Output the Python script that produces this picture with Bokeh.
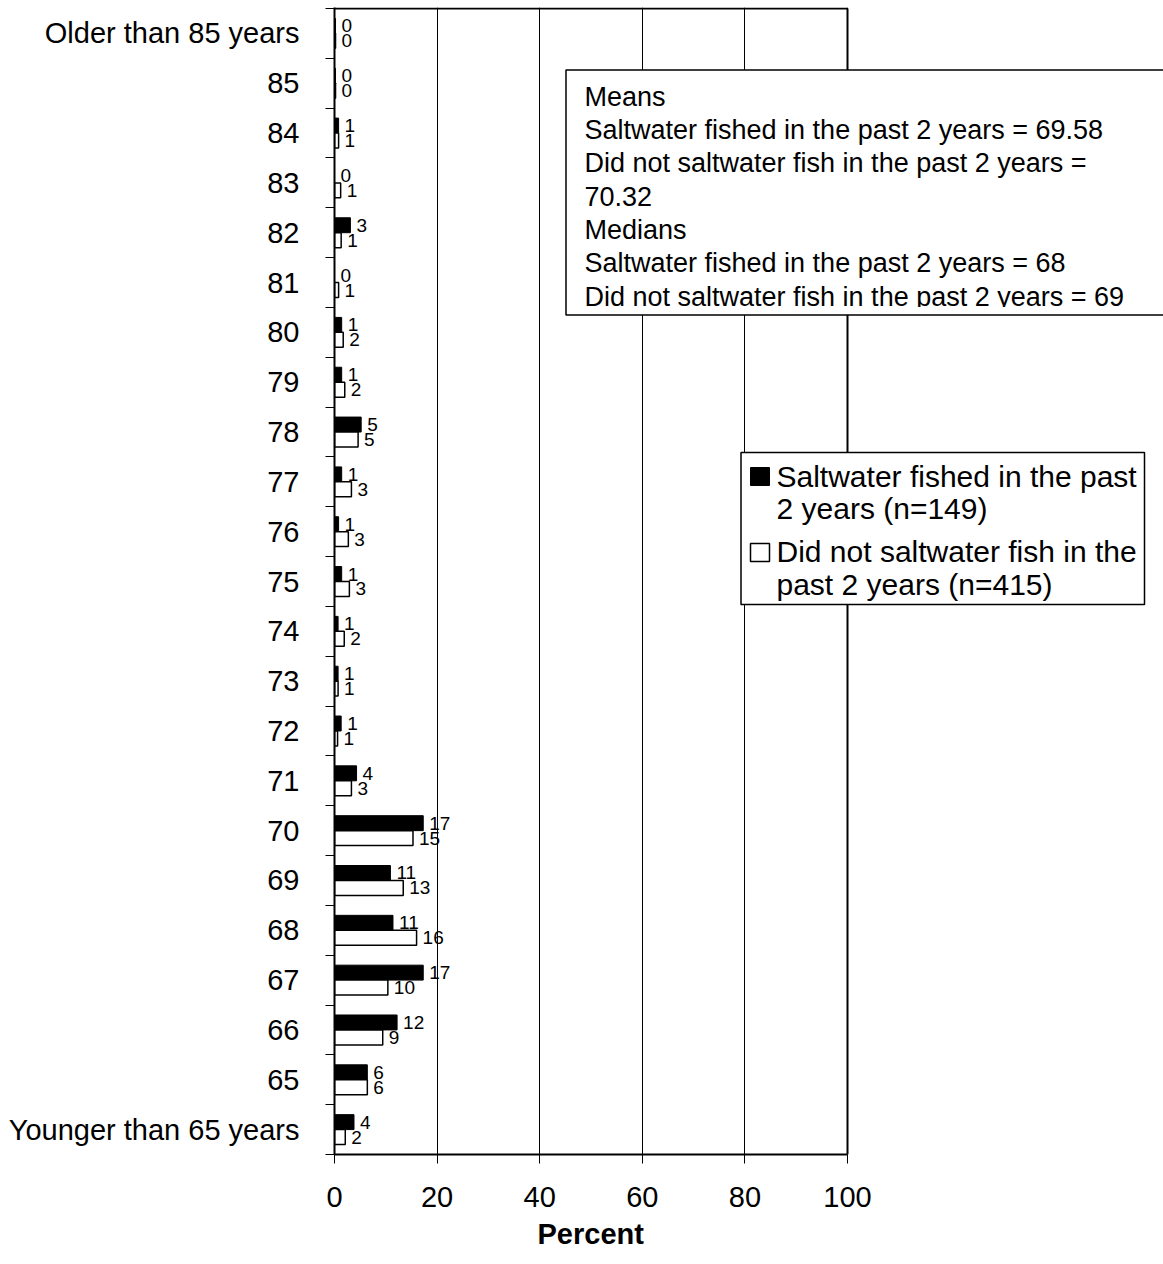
from bokeh.plotting import figure
from bokeh.models import Range1d, FixedTicker, ColumnDataSource, Title
from bokeh.core.properties import value
from bokeh.embed import file_html
from bokeh.resources import INLINE

# ---------------- data ----------------
categories = ["Younger than 65 years", "65", "66", "67", "68", "69", "70", "71", "72",
              "73", "74", "75", "76", "77", "78", "79", "80", "81", "82", "83", "84",
              "85", "Older than 85 years"]
fished = [3.8, 6.4, 12.2, 17.3, 11.4, 10.9, 17.3, 4.3, 1.3, 0.7, 0.7, 1.4, 0.8, 1.4,
          5.2, 1.4, 1.4, 0.0, 3.1, 0.0, 0.8, 0.2, 0.2]
not_fished = [2.1, 6.4, 9.4, 10.4, 16.0, 13.4, 15.3, 3.3, 0.6, 0.7, 1.9, 2.9, 2.7, 3.3,
              4.6, 2.0, 1.7, 0.8, 1.3, 1.2, 0.8, 0.2, 0.2]
x_ticks = [0, 20, 40, 60, 80, 100]
series_names = ["Saltwater fished in the past", "2 years (n=149)",
                "Did not saltwater fish in the", "past 2 years (n=415)"]
stats_lines = ["Means",
               "Saltwater fished in the past 2 years = 69.58",
               "Did not saltwater fish in the past 2 years =",
               "70.32",
               "Medians",
               "Saltwater fished in the past 2 years = 68",
               "Did not saltwater fish in the past 2 years = 69"]
x_title = "Percent"

FONT = "Liberation Sans"

# ---------------- geometry (page pixels) ----------------
W, H = 1163, 1264
FRAME_L = 334
FRAME_T = 7
FRAME_B = 1154
PX_UNIT = 5.13                      # pixels per percent
X_END = (W - FRAME_L) / PX_UNIT
PPC = (FRAME_B - FRAME_T - 1) / 23.0  # pixels per category
Y_END = 22.5 + 1.0 / PPC


def px2x(px):
    return (px - FRAME_L) / PX_UNIT


def px2y(py):
    return Y_END - (py - FRAME_T) / PPC


n = len(categories)
idx = list(range(n))
src = ColumnDataSource(dict(
    y_b=[i + 0.15 for i in idx],
    y_w=[i - 0.15 for i in idx],
    fished=fished,
    not_fished=not_fished,
    lab_b=[f"{v:.0f}" for v in fished],
    lab_w=[f"{v:.0f}" for v in not_fished],
))

p = figure(width=W, height=H, x_range=Range1d(0, X_END), y_range=Range1d(-0.5, Y_END),
           output_backend="svg", toolbar_location=None,
           min_border_left=FRAME_L, min_border_right=0, min_border_top=FRAME_T,
           min_border_bottom=H - FRAME_B)
p.outline_line_color = None
p.background_fill_color = "white"
p.border_fill_color = "white"

# x axis
xa = p.xaxis[0]
xa.ticker = FixedTicker(ticks=x_ticks)
xa.bounds = (0, 100)
xa.axis_line_width = 2
xa.axis_line_color = "black"
xa.major_tick_out = 9
xa.major_tick_in = 0
xa.major_tick_line_color = "black"
xa.minor_tick_line_color = None
xa.major_label_text_font = FONT
xa.major_label_text_font_size = "29px"
xa.major_label_text_color = "black"
xa.major_label_standoff = 23

# x axis title, centred under the 0-100 scale
p.add_layout(Title(text=x_title, align="left", offset=px2x(537) * PX_UNIT,
                   text_font=FONT, text_font_size="29px", text_font_style="bold",
                   text_color="black", standoff=12), "below")

# y axis
ya = p.yaxis[0]
ya.ticker = FixedTicker(ticks=idx, minor_ticks=[i - 0.5 for i in range(n + 1)])
ya.major_label_overrides = {i: c for i, c in zip(idx, categories)}
ya.axis_line_width = 2
ya.axis_line_color = "black"
ya.major_tick_line_color = None
ya.major_tick_out = 0
ya.major_tick_in = 0
ya.minor_tick_line_color = "black"
ya.minor_tick_out = 9
ya.minor_tick_in = 0
ya.major_label_text_font = FONT
ya.major_label_text_font_size = "29px"
ya.major_label_text_color = "black"
ya.major_label_standoff = 26

p.xgrid.ticker = FixedTicker(ticks=x_ticks)
p.xgrid.grid_line_color = "black"
p.xgrid.grid_line_width = 1
p.ygrid.visible = False

# bars
p.hbar(y="y_b", left=0, right="fished", height=0.3, source=src,
       fill_color="black", line_color="black", line_width=1)
p.hbar(y="y_w", left=0, right="not_fished", height=0.3, source=src,
       fill_color="white", line_color="black", line_width=1.5)

# data labels
p.text(x="fished", y="y_b", text="lab_b", source=src, x_offset=6,
       text_baseline="middle", text_align="left", text_color="black",
       text_font=value(FONT), text_font_size="19px")
p.text(x="not_fished", y="y_w", text="lab_w", source=src, x_offset=6,
       text_baseline="middle", text_align="left", text_color="black",
       text_font=value(FONT), text_font_size="19px")

# plot-area border (top and right)
p.segment(x0=[0, 100], y0=[22.5, -0.5], x1=[100, 100], y1=[22.5, 22.5],
          line_color="black", line_width=2)

# statistics box
p.quad(left=px2x(565.5), right=X_END + 20, top=px2y(69.5), bottom=px2y(314.5),
       fill_color="white", line_color="black", line_width=1.5)
stat_y = [96.3 + 33.3 * k for k in range(len(stats_lines))]
p.text(x=[px2x(584)] * len(stats_lines), y=[px2y(v) for v in stat_y], text=stats_lines,
       text_baseline="middle", text_align="left", text_color="black",
       text_font=value(FONT), text_font_size="27px")
# clip the last, overflowing line as in the original text box
p.quad(left=px2x(567), right=X_END + 20, top=px2y(306.5), bottom=px2y(313.6),
       fill_color="white", line_color=None)

# legend box
p.quad(left=px2x(740.5), right=px2x(1144), top=px2y(452), bottom=px2y(604),
       fill_color="white", line_color="black", line_width=1.5)
p.quad(left=px2x(750), right=px2x(769), top=px2y(467), bottom=px2y(485),
       fill_color="black", line_color="black", line_width=1)
p.quad(left=px2x(750), right=px2x(769), top=px2y(543), bottom=px2y(561),
       fill_color="white", line_color="black", line_width=1.5)
leg_y = [476, 507.5, 551, 584]
p.text(x=[px2x(776)] * 4, y=[px2y(v) for v in leg_y], text=series_names,
       text_baseline="middle", text_align="left", text_color="black",
       text_font=value(FONT), text_font_size="30px")

open("out.html", "w").write(file_html(p, INLINE))
